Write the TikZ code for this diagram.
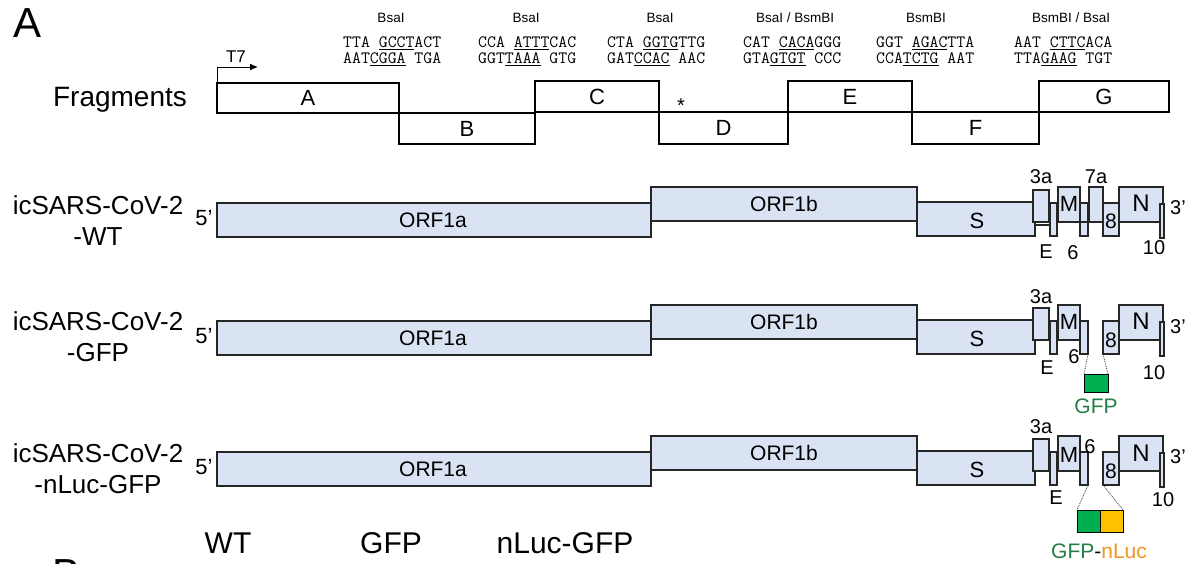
\documentclass[tikz,border=0pt]{standalone}
\usepackage{fontspec}
\setmainfont{Liberation Sans}
\usetikzlibrary{arrows.meta}
\definecolor{orfblue}{HTML}{DAE3F3}
\definecolor{gfpgreen}{HTML}{00B050}
\definecolor{gfptext}{RGB}{35,125,70}
\definecolor{nlucbox}{HTML}{FFC000}
\definecolor{nluctext}{RGB}{240,150,30}
\newcommand{\fsz}[1]{\fontsize{#1}{#1}\selectfont}
\newcommand{\seqf}{\ttfamily\fontsize{17.3}{17.3}\selectfont}
\newcommand{\bx}[6]{\node[#1, minimum width={(#5-#3)*1pt}, minimum height={(#6-#4)*1pt}] (#2) at (#3,#4) {};}
\newcommand{\genomerow}[1]{%
  \bx{gene}{orfa#1}{217}{203}{651}{237}
  \bx{gene}{orfb#1}{651}{187}{917}{221}
  \bx{gene}{s#1}{917}{202}{1035}{236}
  \bx{gene}{e#1}{1050}{203}{1057}{236}
  \bx{gene}{tha#1}{1033}{190}{1049}{222}
  \bx{gene}{m#1}{1058}{187}{1080}{222}
  \bx{gene}{six#1}{1080}{203}{1088}{236}
  \bx{gene}{ei#1}{1103}{203}{1119}{236}
  \bx{gene}{n#1}{1119}{187}{1163}{222}
  \bx{gene}{ten#1}{1160}{204}{1164}{238}
  \node[txt,font=\fsz{21}] (lorfa#1) at (433,220) {ORF1a};
  \node[txt,font=\fsz{21}] (lorfb#1) at (784,204) {ORF1b};
  \node[txt,font=\fsz{22}] (ls#1) at (977,221) {S};
  \node[txt,font=\fsz{22}] (fivep#1) at (204,218) {5’};
}
\begin{document}
\begin{tikzpicture}[x=1pt,y=-1pt,
  frag/.style={draw=black, line width=1.1pt, fill=white, inner sep=0pt, outer sep=0pt, anchor=north west},
  gene/.style={draw=black!85, line width=1.3pt, fill=orfblue, inner sep=0pt, outer sep=0pt, anchor=north west},
  insert/.style={draw=black, line width=1pt, inner sep=0pt, outer sep=0pt, anchor=north west},
  txt/.style={inner sep=0pt, text=black},
  enz/.style={txt, font=\fsz{13.5}},
  seq/.style={txt, anchor=west, font=\seqf},
  dotline/.style={densely dotted, line width=0.8pt, black!80}]
\useasboundingbox (0,0) rectangle (1188,563);
\clip (0,0) rectangle (1188,563);

% panel letters
\node[txt,font=\fsz{42}] (panA) at (28,23) {A};
\node[txt,font=\fsz{42}] (panB) at (67,574) {B};

% enzyme labels
\node[enz] (en1) at (391,18) {BsaI};
\node[enz] (en2) at (526,18) {BsaI};
\node[enz] (en3) at (660,18) {BsaI};
\node[enz] (en4) at (795,18) {BsaI / BsmBI};
\node[enz] (en5) at (926,18) {BsmBI};
\node[enz] (en6) at (1071,18) {BsmBI / BsaI};

% sequences
\node[seq] (sa1) at (343,43) {TTA \underline{GCCT}ACT};
\node[seq] (sb1) at (343,59) {AAT\underline{CGGA} TGA};
\node[seq] (sa2) at (478,43) {CCA \underline{ATTT}CAC};
\node[seq] (sb2) at (478,59) {GGT\underline{TAAA} GTG};
\node[seq] (sa3) at (607,43) {CTA \underline{GGTG}TTG};
\node[seq] (sb3) at (607,59) {GAT\underline{CCAC} AAC};
\node[seq] (sa4) at (743,43) {CAT \underline{CACA}GGG};
\node[seq] (sb4) at (743,59) {GTA\underline{GTGT} CCC};
\node[seq] (sa5) at (876,43) {GGT \underline{AGAC}TTA};
\node[seq] (sb5) at (876,59) {CCA\underline{TCTG} AAT};
\node[seq] (sa6) at (1014,43) {AAT \underline{CTTC}ACA};
\node[seq] (sb6) at (1014,59) {TTA\underline{GAAG} TGT};

% fragments
\node[txt,font=\fsz{28}] (fraglab) at (120,100) {Fragments};
\bx{frag}{fa}{217}{83}{399}{113}
\bx{frag}{fb}{399}{113}{535}{144}
\bx{frag}{fc}{535}{81}{659}{112}
\bx{frag}{fd}{659}{112}{788}{144}
\bx{frag}{fe}{788}{81}{912}{112}
\bx{frag}{ff}{912}{112}{1039}{144}
\bx{frag}{fg}{1039}{81}{1169}{112}
\node[txt,font=\fsz{22}] at (fa) {A};
\node[txt,font=\fsz{22}] at (fb) {B};
\node[txt,font=\fsz{22}] at (fc) {C};
\node[txt,font=\fsz{22}] at (fd) {D};
\node[txt,font=\fsz{22}] at (fe) {E};
\node[txt,font=\fsz{22}] at (ff) {F};
\node[txt,font=\fsz{22}] at (fg) {G};
\node[txt,font=\fsz{20}] (star) at (681,106) {*};
\coordinate (t7a) at (258,67);
\draw[line width=1pt, -{Latex[length=8pt,width=7pt]}] (fa.north west) |- (t7a);
\node[txt,font=\fsz{17}] (t7) at (236,57) {T7};

% ---------- row 1 : WT
\node[txt,font=\fsz{26}] (r1a) at (98,205) {icSARS-CoV-2};
\node[txt,font=\fsz{26}] (r1b) at (98,237) {-WT};
\draw[line width=1.3pt, black!85] (1035,225) -- (1050,225);
\genomerow{1}
\bx{gene}{sev1}{1089}{187}{1103}{222}
\draw[line width=1.3pt, black!85] (m1.south east) -- (sev1.south west);
\node[txt,font=\fsz{20}] at (1041,177) {3a};
\node[txt,font=\fsz{20}] at (1096,177) {7a};
\node[txt,font=\fsz{22}] at (1069,204) {M};
\node[txt,font=\fsz{21}] at (1111,221) {8};
\node[txt,font=\fsz{24}] at (1141,203) {N};
\node[txt,font=\fsz{20}] at (1046,252) {E};
\node[txt,font=\fsz{20}] at (1073,253) {6};
\node[txt,font=\fsz{20}] at (1154,248) {10};
\node[txt,font=\fsz{20}] at (1178,208) {3’};

% ---------- row 2 : GFP
\node[txt,font=\fsz{26}] (r2a) at (98,321) {icSARS-CoV-2};
\node[txt,font=\fsz{26}] (r2b) at (98,353) {-GFP};
\begin{scope}[yshift=-118pt]
\genomerow{2}
\end{scope}
\node[txt,font=\fsz{20}] at (1041,297) {3a};
\node[txt,font=\fsz{22}] at (1069,322) {M};
\node[txt,font=\fsz{21}] at (1111,340) {8};
\node[txt,font=\fsz{24}] at (1141,321) {N};
\node[txt,font=\fsz{20}] at (1074,357) {6};
\node[txt,font=\fsz{20}] at (1047,368) {E};
\node[txt,font=\fsz{20}] at (1154,373) {10};
\node[txt,font=\fsz{20}] at (1178,327) {3’};
\bx{insert,fill=gfpgreen}{gfp2}{1084}{374}{1108}{392}
\draw[dotline] (six2.south east) -- (gfp2.north west);
\draw[dotline] (ei2.south west) -- (gfp2.north east);
\node[txt,font=\fsz{21},text=gfptext] (gfplab) at (1096,406) {GFP};

% ---------- row 3 : nLuc-GFP
\node[txt,font=\fsz{26}] (r3a) at (98,453) {icSARS-CoV-2};
\node[txt,font=\fsz{26}] (r3b) at (98,485) {-nLuc-GFP};
\begin{scope}[yshift=-249pt]
\genomerow{3}
\end{scope}
\node[txt,font=\fsz{20}] at (1041,427) {3a};
\node[txt,font=\fsz{22}] at (1069,455) {M};
\node[txt,font=\fsz{20}] at (1090,447) {6};
\node[txt,font=\fsz{21}] at (1111,471) {8};
\node[txt,font=\fsz{24}] at (1141,453) {N};
\node[txt,font=\fsz{20}] at (1056,498) {E};
\node[txt,font=\fsz{20}] at (1163,500) {10};
\node[txt,font=\fsz{20}] at (1178,457) {3’};
\bx{insert,fill=gfpgreen}{gfp3}{1077}{510}{1100}{532}
\bx{insert,fill=nlucbox}{nluc3}{1100}{510}{1123}{532}
\draw[dotline] (six3.south east) -- (gfp3.north west);
\draw[dotline] (ei3.south west) -- (nluc3.north east);
\node[txt,font=\fsz{21}] (gnlab) at (1099,551) {\textcolor{gfptext}{GFP}-\textcolor{nluctext}{nLuc}};

% bottom labels
\node[txt,font=\fsz{30}] (bwt) at (228,543) {WT};
\node[txt,font=\fsz{30}] (bgfp) at (391,543) {GFP};
\node[txt,font=\fsz{30}] (bnl) at (565,543) {nLuc-GFP};
\end{tikzpicture}
\end{document}
